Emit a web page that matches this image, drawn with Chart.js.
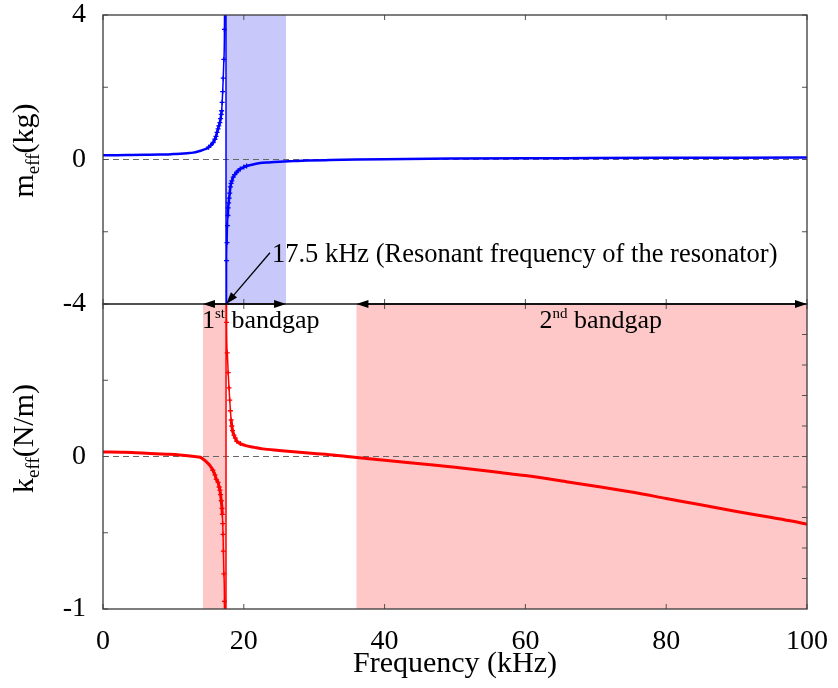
<!DOCTYPE html>
<html>
<head>
<meta charset="utf-8">
<script src="https://cdn.jsdelivr.net/npm/chart.js@4.4.1/dist/chart.umd.min.js"></script>
<style>
  html, body { margin: 0; padding: 0; background: #fff; }
  canvas { display: block; }
</style>
</head>
<body>
<canvas id="chart" width="838" height="688"></canvas>
<script>
// upper panel: effective mass (kg) against frequency (kHz)
const mFreq = [0, 2, 4, 6, 8, 9, 10, 11, 12, 12.8, 13.5, 14, 14.4, 14.7, 15, 15.3, 15.65, 15.9, 16.05, 16.2,
  16.35, 16.45, 16.6, 16.7, 16.8, 16.85, 16.93, 17.0, 17.08, 17.17, 17.25, 17.45,
  17.5, 17.55, 17.62, 17.68, 17.74, 17.78, 17.85, 17.92, 18.0, 18.1, 18.2, 18.3, 18.5, 18.7, 19.0, 19.2,
  19.5, 20, 20.4, 21, 22.3, 23.5, 25.1, 27, 29, 32.2, 36, 40, 50, 60, 70, 80, 90, 100];
const mVal = [0.12, 0.12, 0.125, 0.13, 0.135, 0.14, 0.15, 0.16, 0.175, 0.19, 0.22, 0.25, 0.28, 0.3, 0.34, 0.39, 0.47, 0.56, 0.64, 0.75,
  0.85, 0.93, 1.02, 1.13, 1.25, 1.35, 1.58, 1.88, 2.25, 2.77, 3.6, 20,
  -20, -2.8, -2.3, -1.83, -1.55, -1.34, -1.2, -1.07, -0.93, -0.76, -0.66, -0.59, -0.49, -0.42, -0.35, -0.31,
  -0.26, -0.21, -0.18, -0.15, -0.1, -0.08, -0.06, -0.045, -0.03, -0.015, 0, 0.01, 0.025, 0.035, 0.04, 0.045, 0.05, 0.055];

// lower panel: effective stiffness (N/m)
const kFreq = [0, 3, 6.7, 9, 10.9, 12, 13, 13.8, 14.3, 14.8, 15.2, 15.6, 15.9, 16.1, 16.35, 16.5, 16.6, 16.7, 16.8,
  16.9, 16.95, 17.0, 17.05, 17.1, 17.17, 17.25, 17.45,
  17.5, 17.55, 17.65, 17.78, 17.9, 18.0, 18.1, 18.2, 18.3, 18.4, 18.6, 18.8, 19.0, 19.5, 20.4, 21.5, 22.7,
  25, 27.5, 30, 33, 36, 40, 46.9, 50, 56.4, 60, 65.8, 70, 75.3, 80, 84.7, 90, 95, 98, 100];
const kVal = [0.03, 0.028, 0.02, 0.015, 0.01, 0.005, 0, -0.005, -0.02, -0.04, -0.06, -0.09, -0.12, -0.15, -0.17, -0.2, -0.22, -0.25, -0.29,
  -0.34, -0.38, -0.44, -0.51, -0.62, -0.77, -0.95, -5,
  5, 0.88, 0.68, 0.55, 0.45, 0.37, 0.3, 0.24, 0.2, 0.17, 0.14, 0.12, 0.1, 0.085, 0.07, 0.06, 0.05,
  0.04, 0.03, 0.02, 0.008, -0.007, -0.025, -0.055, -0.07, -0.105, -0.125, -0.165, -0.195, -0.235, -0.275, -0.315, -0.36, -0.4, -0.425, -0.445];

const mTickLabels = [-4, 0, 4];
const kTickLabels = [-1, 0];
const kRightTicks = [-0.8, -0.6, -0.4, -0.2, 0, 0.2, 0.4, 0.6, 0.8];

const resonance = 17.5;
const massGaps = [[17.5, 26]];
const stiffGaps = [[14.2, 17.5], [36, 100]];
const gapArrows = [[14.2, 26], [36, 100]];

const SERIF = '"Liberation Serif", "Times New Roman", serif';
Chart.defaults.font.family = SERIF;

function pts(xs, ys) {
  return xs.map((x, i) => ({x: x, y: ys[i]}));
}

// markers only where the sampling is dense around the resonance
function marker(lo, hi) {
  return ctx => {
    const r = ctx.raw;
    return r && r.x >= lo && r.x <= hi && Math.abs(r.y) < 4.5 ? 2.5 : 0;
  };
}

function steep(base) {
  return ctx => {
    const dx = Math.abs(ctx.p1.x - ctx.p0.x), dy = Math.abs(ctx.p1.y - ctx.p0.y);
    return dy > 4 * dx && dy > 8 ? 1.5 : base;
  };
}

const bands = {
  id: 'bands',
  beforeDatasetsDraw(chart) {
    const {ctx, scales: {x, yTop, yBot}} = chart;
    ctx.save();
    ctx.fillStyle = 'rgb(200, 200, 250)';
    for (const [a, b] of massGaps) {
      const l = x.getPixelForValue(a), r = x.getPixelForValue(b);
      ctx.fillRect(l, yTop.top, r - l, yTop.bottom - yTop.top);
    }
    ctx.fillStyle = 'rgb(255, 200, 200)';
    for (const [a, b] of stiffGaps) {
      const l = x.getPixelForValue(a), r = x.getPixelForValue(b);
      ctx.fillRect(l, yBot.top, r - l, yBot.bottom - yBot.top);
    }
    ctx.restore();
  }
};

const frame = {
  id: 'frame',
  afterDatasetsDraw(chart) {
    const {ctx, scales: {x, yTop, yBot}} = chart;
    const L = x.left, R = x.right, tl = 5;
    ctx.save();
    ctx.strokeStyle = '#505050';
    ctx.lineWidth = 1;
    ctx.beginPath();
    for (const s of [yTop, yBot]) {
      for (const t of x.ticks) {
        const px = x.getPixelForValue(t.value);
        ctx.moveTo(px, s.top); ctx.lineTo(px, s.top + tl);
        ctx.moveTo(px, s.bottom); ctx.lineTo(px, s.bottom - tl);
      }
      for (const t of s.ticks) {
        const py = s.getPixelForValue(t.value);
        ctx.moveTo(L, py); ctx.lineTo(L + tl, py);
      }
    }
    for (const t of yTop.ticks) {
      const py = yTop.getPixelForValue(t.value);
      ctx.moveTo(R, py); ctx.lineTo(R - tl, py);
    }
    for (const v of kRightTicks) {
      const py = yBot.getPixelForValue(v);
      ctx.moveTo(R, py); ctx.lineTo(R - tl, py);
    }
    ctx.stroke();
    ctx.strokeStyle = '#3a3a3a';
    ctx.lineWidth = 1.3;
    for (const s of [yTop, yBot]) {
      ctx.strokeRect(L, s.top, R - L, s.bottom - s.top);
    }
    ctx.restore();
  }
};

function arrowHead(ctx, x, y, ang) {
  const len = 12, half = 4;
  ctx.beginPath();
  ctx.moveTo(x, y);
  ctx.lineTo(x - len * Math.cos(ang) + half * Math.sin(ang), y - len * Math.sin(ang) - half * Math.cos(ang));
  ctx.lineTo(x - len * Math.cos(ang) - half * Math.sin(ang), y - len * Math.sin(ang) + half * Math.cos(ang));
  ctx.closePath();
  ctx.fill();
}

function supText(ctx, x, y, parts) {
  // parts: [text, size, raise]
  for (const [txt, size, raise] of parts) {
    ctx.font = size + 'px ' + SERIF;
    ctx.fillText(txt, x, y - raise);
    x += ctx.measureText(txt).width;
  }
}

function rotTitle(ctx, cx, cy, main, sub, rest) {
  const big = '30px ' + SERIF, small = '19px ' + SERIF;
  ctx.font = big;
  const w1 = ctx.measureText(main).width, w3 = ctx.measureText(rest).width;
  ctx.font = small;
  const w2 = ctx.measureText(sub).width;
  ctx.save();
  ctx.translate(cx, cy);
  ctx.rotate(-Math.PI / 2);
  ctx.textAlign = 'left';
  ctx.textBaseline = 'alphabetic';
  let p = -(w1 + w2 + w3) / 2;
  ctx.font = big; ctx.fillText(main, p, 0); p += w1;
  ctx.font = small; ctx.fillText(sub, p, 6); p += w2;
  ctx.font = big; ctx.fillText(rest, p, 0);
  ctx.restore();
}

const notes = {
  id: 'notes',
  afterDraw(chart) {
    const {ctx, scales: {x, yTop, yBot}} = chart;
    const yJ = yTop.bottom;
    ctx.save();
    ctx.fillStyle = '#000';
    ctx.strokeStyle = '#000';
    ctx.lineWidth = 1.3;
    for (const [a, b] of gapArrows) {
      const l = x.getPixelForValue(a), r = x.getPixelForValue(b);
      ctx.beginPath(); ctx.moveTo(l + 6, yJ); ctx.lineTo(r - 6, yJ); ctx.stroke();
      arrowHead(ctx, l, yJ, Math.PI);
      arrowHead(ctx, r, yJ, 0);
    }
    // resonance pointer
    const tipX = x.getPixelForValue(resonance), tipY = yJ;
    const textX = x.getPixelForValue(24), textY = yTop.getPixelForValue(-2.83);
    const tailX = textX - 2, tailY = textY - 9;
    const ang = Math.atan2(tipY - tailY, tipX - tailX);
    ctx.beginPath(); ctx.moveTo(tailX, tailY); ctx.lineTo(tipX - 8 * Math.cos(ang), tipY - 8 * Math.sin(ang)); ctx.stroke();
    arrowHead(ctx, tipX, tipY, ang);

    ctx.textAlign = 'left';
    ctx.textBaseline = 'alphabetic';
    ctx.font = '26.5px ' + SERIF;
    ctx.fillText('17.5 kHz (Resonant frequency of the resonator)', textX, textY);

    supText(ctx, x.getPixelForValue(14.05), yJ + 24, [['1', 26, 0], ['st', 15, 10], [' bandgap', 26, 0]]);
    supText(ctx, x.getPixelForValue(62), yJ + 24, [['2', 26, 0], ['nd', 15, 10], [' bandgap', 26, 0]]);

    rotTitle(ctx, 33, (yTop.top + yTop.bottom) / 2 - 9, 'm', 'eff', '(kg)');
    rotTitle(ctx, 33, (yBot.top + yBot.bottom) / 2 - 18, 'k', 'eff', '(N/m)');
    ctx.restore();
  }
};

new Chart(document.getElementById('chart'), {
  type: 'line',
  data: {
    datasets: [
      {
        label: 'm_eff', data: pts(mFreq, mVal), yAxisID: 'yTop',
        borderColor: '#0000ff', backgroundColor: '#0000ff', borderWidth: 2.5,
        pointStyle: 'cross', pointRadius: marker(14.8, 20.6), pointBorderWidth: 1.3,
        cubicInterpolationMode: 'monotone',
        segment: {borderWidth: steep(2.5)}, order: 0
      },
      {
        label: 'k_eff', data: pts(kFreq, kVal), yAxisID: 'yBot',
        borderColor: '#ff0000', backgroundColor: '#ff0000', borderWidth: 3,
        pointStyle: 'cross', pointRadius: marker(15.5, 19.6), pointBorderWidth: 1.3,
        cubicInterpolationMode: 'monotone',
        segment: {borderWidth: steep(3)}, order: 0
      },
      {
        label: 'zero top', data: pts([0, 100], [0, 0]), yAxisID: 'yTop',
        borderColor: '#666', borderWidth: 1.2, borderDash: [6, 4], pointRadius: 0, order: 1
      },
      {
        label: 'zero bottom', data: pts([0, 100], [0, 0]), yAxisID: 'yBot',
        borderColor: '#666', borderWidth: 1.2, borderDash: [6, 4], pointRadius: 0, order: 1
      }
    ]
  },
  options: {
    responsive: false,
    animation: false,
    layout: {padding: {left: 0, right: 31, top: 15, bottom: 0}},
    plugins: {legend: {display: false}, tooltip: {enabled: false}},
    scales: {
      x: {
        type: 'linear', min: 0, max: 100,
        grid: {display: false}, border: {display: false},
        ticks: {stepSize: 20, padding: 8, autoSkip: false, maxRotation: 0, color: '#000', font: {size: 28}},
        title: {display: true, text: 'Frequency (kHz)', color: '#000', font: {size: 30}, padding: {top: 0, bottom: 6}},
        afterFit(s) { s.height = 79; s.paddingLeft = 0; s.paddingRight = 0; }
      },
      yBot: {
        type: 'linear', position: 'left', stack: 'panels', stackWeight: 305,
        min: -1, max: 1,
        grid: {display: false}, border: {display: false},
        ticks: {stepSize: 0.5, padding: 9, color: '#000', font: {size: 28},
          callback: v => kTickLabels.includes(v) ? String(v) : ''},
        afterFit(s) { s.width = 103; s.paddingTop = 0; s.paddingBottom = 0; }
      },
      yTop: {
        type: 'linear', position: 'left', stack: 'panels', stackWeight: 289,
        min: -4, max: 4,
        grid: {display: false}, border: {display: false},
        ticks: {stepSize: 1, padding: 9, color: '#000', font: {size: 28},
          callback: v => mTickLabels.includes(v) ? String(v) : ''},
        afterFit(s) { s.width = 103; s.paddingTop = 0; s.paddingBottom = 0; }
      }
    }
  },
  plugins: [bands, frame, notes]
});
</script>
</body>
</html>
